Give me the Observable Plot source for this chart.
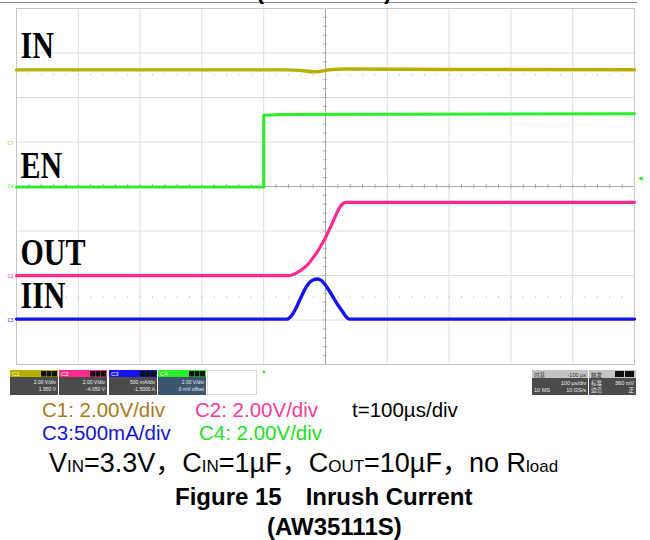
<!DOCTYPE html>
<html><head><meta charset="utf-8">
<script src="https://cdn.jsdelivr.net/npm/d3@7"></script>
<script src="https://cdn.jsdelivr.net/npm/@observablehq/plot@0.6"></script>
<style>
html,body{margin:0;padding:0;background:#fff;}
#wrap{position:relative;width:650px;height:540px;overflow:hidden;background:#fff;}
#plot{position:absolute;left:0;top:0;}
#overlay{position:absolute;left:0;top:0;}
</style></head><body>
<div id="wrap"><div id="plot"></div><svg id="overlay" width="650" height="540"></svg></div>
<script>
// ---- channel setup (scope readouts) ----
const channels = ["C1", "C2", "C3", "C4"];
const chSignal = ["IN", "OUT", "IIN", "EN"];
const chScale  = [2.00, 2.00, 0.500, 2.00];   // V/div or A/div
const chOffset = [1.950, -4.050, -1.5000, 0]; // offset
const chColor  = ["#b8b000", "#ff2a8c", "#1414f0", "#2bee2b"];
const chText   = ["#a87a1e", "#f23c98", "#1414d2", "#22e022"];
const chVdiv   = ["2.00 V/div", "2.00 V/div", "500 mA/div", "2.00 V/div"];
const chOffTxt = ["1.950 V", "-4.050 V", "-1.5000 A", "0 mV offset"];

// ---- time grid (µs, relative to EN trigger) ----
const gridT   = [-400, -300, -200, -100, 0, 100, 200, 300, 400, 500, 600];
const gridDiv = [-4, -3, -2, -1, 0, 1, 2, 3, 4];

// ---- traces ----
const inT  = [-400, 35, 50, 65, 80, 90, 100, 112, 130, 300, 600];
const inV  = [3.29, 3.29, 3.28, 3.25, 3.21, 3.22, 3.27, 3.31, 3.33, 3.31, 3.30];
const enT  = [-400, 0, 0, 30, 600];
const enV  = [-0.02, -0.02, 3.20, 3.24, 3.27];
const outT = [-400, 38, 48, 58, 70, 79, 89, 100, 110, 118, 124, 129, 133, 600];
const outV = [0.04, 0.04, 0.10, 0.25, 0.50, 0.81, 1.22, 1.76, 2.34, 2.84, 3.15, 3.30, 3.34, 3.34];
const iinT = [-400, 37, 45, 52, 60, 67, 74, 80, 86, 92, 98, 105, 112, 120, 128, 134, 139, 600];
const iinA = [0.01, 0.01, 0.05, 0.13, 0.25, 0.35, 0.42, 0.45, 0.46, 0.45, 0.41, 0.34, 0.26, 0.17, 0.09, 0.03, 0.01, 0.01];

// ---- labels ----
const labelText = ["IN", "EN", "OUT", "IIN"];
const labelDiv  = [2.88, 0.18, -1.77, -2.74];

const toDiv = (v, ch) => (v + chOffset[ch]) / chScale[ch];
const mk = (T, V, ch) => T.map((t, i) => ({t, d: toDiv(V[i], ch)}));
const traces = [
  {ch: 0, data: mk(inT, inV, 0), curve: "monotone-x", w: 3.4},
  {ch: 3, data: mk(enT, enV, 3), curve: "linear", w: 3},
  {ch: 1, data: mk(outT, outV, 1), curve: "monotone-x", w: 3.2},
  {ch: 2, data: mk(iinT, iinA, 2), curve: "monotone-x", w: 3.4}
];

const minorT = d3.range(-400, 601, 20);
const minorD = d3.range(-4, 4.001, 0.2);
const centerT = 100;

const plot = Plot.plot({
  width: 650, height: 400,
  marginLeft: 16, marginRight: 16, marginTop: 8, marginBottom: 36,
  x: {domain: [-400, 600], axis: null},
  y: {domain: [-4, 4], axis: null},
  style: {background: "transparent", overflow: "visible"},
  marks: [
    Plot.ruleX(gridT, {stroke: "#dedede", strokeWidth: 1}),
    Plot.ruleY(gridDiv, {stroke: "#dedede", strokeWidth: 1}),
    Plot.ruleX([centerT], {stroke: "#a8a8a8", strokeWidth: 1}),
    Plot.ruleY([0], {stroke: "#a8a8a8", strokeWidth: 1}),
    Plot.ruleY(minorD, {x1: centerT - 3, x2: centerT + 3, stroke: "#a8a8a8"}),
    Plot.ruleX(minorT, {y1: -0.05, y2: 0.05, stroke: "#a8a8a8"}),
    Plot.ruleX(minorT, {y1: 2.5 - 0.015, y2: 2.5 + 0.015, stroke: "#b8b8b8"}),
    Plot.ruleX(minorT, {y1: -2.5 - 0.015, y2: -2.5 + 0.015, stroke: "#b8b8b8"}),
    Plot.frame({stroke: "#c8c8c8"}),
    ...traces.map(tr => Plot.line(tr.data, {x: "t", y: "d", stroke: chColor[tr.ch], strokeWidth: tr.w, curve: tr.curve})),
    Plot.text(labelText, {x: -400, y: (d, i) => labelDiv[i], text: d => d, dx: 4, textAnchor: "start", lineAnchor: "bottom",
      fontFamily: "Liberation Serif", fontWeight: "bold", fontSize: 30, fill: "#000", className: "siglabel"}),
    Plot.text(channels, {x: -400, y: (d, i) => chOffset[i] / chScale[i], text: d => d, dx: -3, textAnchor: "end",
      fontSize: 5, fill: (d, i) => chColor[i]}),
    Plot.text(["◀"], {x: 600, y: toDiv(0.36, 3), text: d => d, dx: 3, textAnchor: "start", fontSize: 6, fill: chColor[3]}),
    Plot.text(["▲"], {x: 0, y: -4, text: d => d, dy: 4, lineAnchor: "top", fontSize: 6, fill: chColor[3]})
  ]
});
document.getElementById("plot").appendChild(plot);
// stretch the serif labels vertically like the scope screenshot
d3.select(plot).selectAll(".siglabel text").each(function() {
  const t = d3.select(this).attr("transform") || "";
  d3.select(this).attr("transform", t + " scale(1,1.28)");
});

// ---- overlay: status bar and caption ----
const svg = d3.select("#overlay");
svg.append("line").attr("x1", 0).attr("x2", 637).attr("y1", 2.5).attr("y2", 2.5).attr("stroke", "#8a8a8a");
svg.append("text").attr("x", 256).attr("y", -1).attr("font-family", "Liberation Sans, Arial").attr("font-weight", "bold")
  .attr("font-size", 24).text("(AW35110S)");

const boxX = [10, 59, 109, 158];
channels.forEach((c, i) => {
  const g = svg.append("g").attr("transform", `translate(${boxX[i]},370)`);
  g.append("rect").attr("width", 48).attr("height", 7).attr("fill", chColor[i]);
  g.append("rect").attr("y", 7).attr("width", 48).attr("height", 18).attr("fill", i === 3 ? "#3c5670" : "#4b4b4b");
  g.append("text").attr("x", 2).attr("y", 6).attr("font-size", 6).attr("font-family", "Liberation Sans").attr("fill", "#f4f4d0").text(c);
  ["F", "B", "DI"].forEach((s, k) => {
    g.append("rect").attr("x", 31 + k * 5.5).attr("y", 1).attr("width", 5).attr("height", 5.5).attr("fill", "#111");
  });
  g.append("text").attr("x", 46).attr("y", 14).attr("text-anchor", "end").attr("font-size", 5).attr("font-family", "Liberation Sans").attr("fill", "#eee").text(chVdiv[i]);
  g.append("text").attr("x", 46).attr("y", 21).attr("text-anchor", "end").attr("font-size", 5).attr("font-family", "Liberation Sans").attr("fill", "#eee").text(chOffTxt[i]);
});
svg.append("rect").attr("x", 207.5).attr("y", 370.5).attr("width", 49).attr("height", 24).attr("fill", "none")
  .attr("stroke", "#b0b0b0").attr("stroke-dasharray", "1,1");

const rbox = [
  {x: 532, w: 56, tl: "时基", tr: "-100 µs", m: "100 µs/div", bl: "10 MS", br: "10 GS/s", ml: ""},
  {x: 589, w: 47, tl: "触发", tr: "", m: "360 mV", bl: "边沿", br: "正", ml: "标准"}
];
rbox.forEach((b, i) => {
  const g = svg.append("g").attr("transform", `translate(${b.x},370)`);
  g.append("rect").attr("width", b.w).attr("height", 8).attr("fill", "#c4c4c4");
  g.append("rect").attr("y", 8).attr("width", b.w).attr("height", 17).attr("fill", "#4b4b4b");
  const tx = (x, y, s, a, f) => g.append("text").attr("x", x).attr("y", y).attr("text-anchor", a).attr("font-size", 5.5)
    .attr("font-family", "Liberation Sans, Noto Sans CJK SC").attr("fill", f).text(s);
  tx(2, 6.5, b.tl, "start", "#333");
  if (b.tr) tx(b.w - 2, 6.5, b.tr, "end", "#333");
  else { g.append("rect").attr("x", b.w - 21).attr("y", 1).attr("width", 9).attr("height", 6).attr("fill", "#111");
         g.append("rect").attr("x", b.w - 11).attr("y", 1).attr("width", 9).attr("height", 6).attr("fill", "#111"); }
  tx(b.w - 2, 15, b.m, "end", "#eee");
  if (b.ml) tx(2, 15, b.ml, "start", "#eee");
  tx(2, 22, b.bl, "start", "#eee");
  tx(b.w - 2, 22, b.br, "end", "#eee");
});

const cap = (x, y, s, color, size, weight) => svg.append("text").attr("x", x).attr("y", y)
  .attr("font-family", "Liberation Sans, Arial, Noto Sans CJK SC").attr("font-size", size)
  .attr("font-weight", weight || "normal").attr("fill", color).text(s);
cap(42, 417, `${channels[0]}: ${chVdiv[0].replace(" V", "V").replace(" ", "")}`, chText[0], 20.5);
cap(195, 417, `${channels[1]}: ${chVdiv[1].replace(" V", "V").replace(" ", "")}`, chText[1], 20.5);
cap(352, 417, "t=100µs/div", "#000", 20.5);
cap(42, 440, `${channels[2]}:${chVdiv[2].replace(" ", "")}`, chText[2], 20.5);
cap(199, 440, `${channels[3]}: ${chVdiv[3].replace(" V", "V").replace(" ", "")}`, chText[3], 20.5);

// conditions line with subscripts
const cond = svg.append("text").attr("x", 49).attr("y", 472).attr("font-family", "Liberation Sans, Arial, Noto Sans CJK SC")
  .attr("font-size", 27).attr("fill", "#000");
const parts = [["V", 0], ["IN", 1], ["=3.3V，C", 0], ["IN", 1], ["=1µF，C", 0], ["OUT", 1], ["=10µF，no R", 0], ["load", 1]];
parts.forEach(([s, sub]) => cond.append("tspan").attr("font-size", sub ? 17 : 27).text(s));

const fig = svg.append("text").attr("x", 175).attr("y", 505).attr("font-family", "Liberation Sans, Arial")
  .attr("font-weight", "bold").attr("font-size", 24).attr("fill", "#000");
fig.append("tspan").text("Figure 15");
fig.append("tspan").attr("dx", 24).text("Inrush Current");
cap(267, 535, "(AW35111S)", "#000", 24, "bold");
</script></body></html>
